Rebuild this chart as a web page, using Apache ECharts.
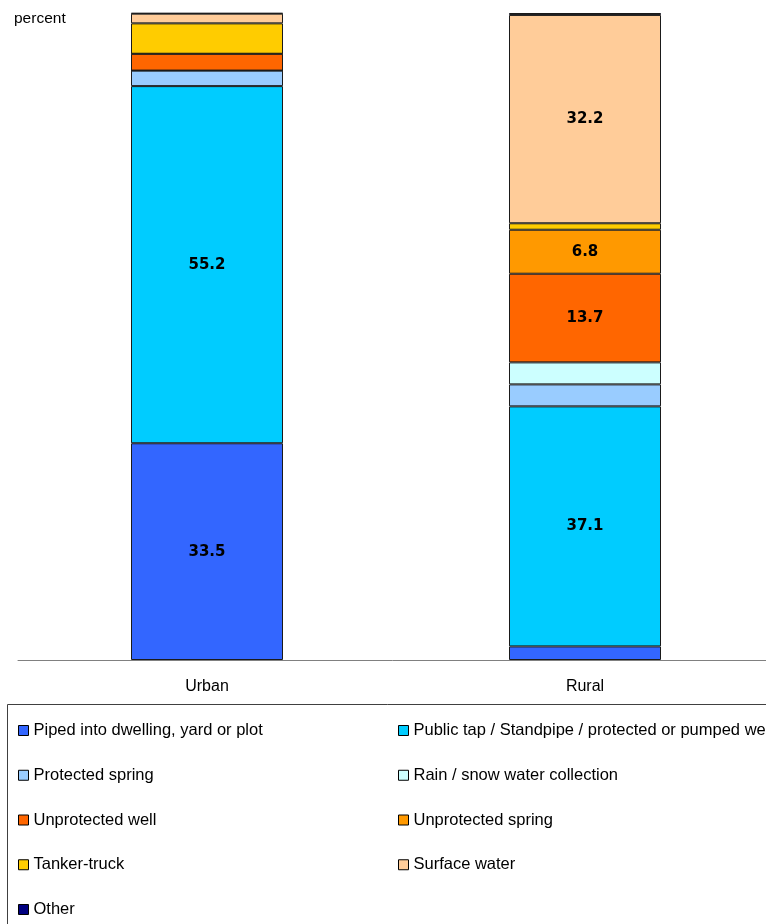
<!DOCTYPE html>
<html>
<head>
<meta charset="utf-8">
<script src="https://cdn.jsdelivr.net/npm/echarts@6/dist/echarts.min.js"></script>
<style>html,body{margin:0;padding:0;background:#fff;}#c{width:766px;height:924px;}</style>
</head>
<body>
<div id="c"></div>
<script>
var categories = ['Urban', 'Rural'];
var seriesNames = [
  'Piped into dwelling, yard or plot',
  'Public tap / Standpipe / protected or pumped well',
  'Protected spring',
  'Rain / snow water collection',
  'Unprotected well',
  'Unprotected spring',
  'Tanker-truck',
  'Surface water',
  'Other'
];
var piped = [33.5, 2.1];
var publicTap = [55.2, 37.1];
var protectedSpring = [2.4, 3.4];
var rainSnow = [0.0, 3.4];
var unprotectedWell = [2.6, 13.7];
var unprotectedSpring = [0.0, 6.8];
var tankerTruck = [4.7, 1.0];
var surfaceWater = [1.5, 32.2];
var other = [0.1, 0.3];
var colors = ['#3366FF', '#00CCFF', '#99CCFF', '#CCFFFF', '#FF6600', '#FF9900', '#FFCC00', '#FFCC99', '#000080'];

var values = [piped, publicTap, protectedSpring, rainSnow, unprotectedWell, unprotectedSpring, tankerTruck, surfaceWater, other];
var FONT = 'Liberation Sans';

var series = seriesNames.map(function (name, i) {
  return {
    name: name,
    type: 'bar',
    stack: 'total',
    barWidth: 152,
    data: values[i],
    itemStyle: { color: colors[i], borderColor: '#1a1a1a', borderWidth: 1 },
    label: {
      show: true,
      position: 'inside',
      color: '#000',
      fontWeight: 'bold',
      fontSize: 15,
      fontFamily: 'DejaVu Sans',
      formatter: function (p) { return p.value >= 5 ? p.value.toFixed(1) : ''; }
    },
    emphasis: { disabled: true }
  };
});

var legendText = { fontFamily: FONT, fontSize: 16.5, color: '#000' };
var legendItemStyle = { borderColor: '#000', borderWidth: 1 };

// legend items laid out in two columns, one legend component per item
var legends = seriesNames.map(function (name, i) {
  var col = i % 2;
  var row = Math.floor(i / 2);
  return {
    orient: 'horizontal',
    left: col === 0 ? 13 : 393,
    top: 717 + row * 44.75,
    itemWidth: 10,
    itemHeight: 10,
    icon: 'rect',
    itemStyle: legendItemStyle,
    textStyle: legendText,
    selectedMode: false,
    padding: 5,
    data: [name]
  };
});

var chart = echarts.init(document.getElementById('c'), null, { renderer: 'canvas' });
chart.setOption({
  animation: false,
  color: colors,
  grid: { left: 18, width: 756, top: 13, bottom: 264, containLabel: false, outerBoundsMode: 'none' },
  xAxis: {
    type: 'category',
    data: categories,
    axisLine: { show: true, lineStyle: { color: '#808080', width: 1 } },
    axisTick: { show: false },
    axisLabel: { color: '#000', fontFamily: FONT, fontSize: 16, margin: 19 }
  },
  yAxis: {
    type: 'value',
    min: 0,
    max: 100,
    interval: 10,
    axisLine: { show: false },
    axisTick: { show: false },
    axisLabel: { show: false },
    splitLine: { show: false }
  },
  legend: legends,
  graphic: [
    {
      type: 'rect',
      shape: { x: 7.5, y: 704.5, width: 800, height: 260 },
      style: { fill: 'none', stroke: '#404040', lineWidth: 1 },
      silent: true
    },
    {
      type: 'text',
      left: 14,
      top: 11,
      style: { text: 'percent', fontFamily: FONT, fontSize: 15.5, fill: '#000' },
      silent: true
    }
  ],
  series: series
});
</script>
</body>
</html>
